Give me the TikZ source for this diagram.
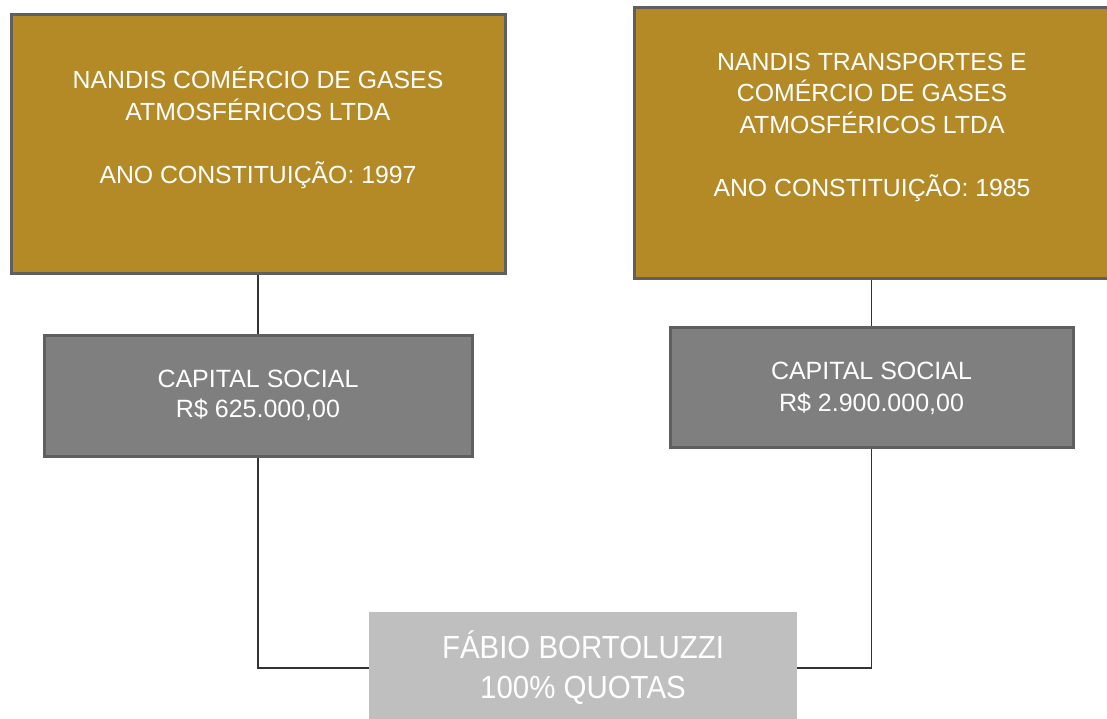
\documentclass[tikz,border=0pt]{standalone}
\usepackage{fontspec}
\setmainfont{Liberation Sans}
\newfontfamily\narrowfont[FakeStretch=0.92]{Liberation Sans}
\definecolor{gold}{HTML}{B38A26}
\definecolor{edge}{HTML}{5F5F5F}
\definecolor{midgray}{HTML}{7F7F7F}
\definecolor{lightgray}{HTML}{BFBFBF}
\begin{document}
\begin{tikzpicture}
[
 x=1pt, y=-1pt,
 inner sep=0pt,
 GOLDBOX/.style={rectangle, draw=edge, fill=gold, line width=3pt},
 CAPBOX/.style={rectangle, draw=edge, fill=midgray, line width=3pt},
 OWNBOX/.style={rectangle, fill=lightgray},
 TXT/.style={text=white, align=center, font=\fontsize{24.8}{31.5}\selectfont},
 BIGTXT/.style={text=white, align=center, font=\narrowfont\fontsize{32}{40}\selectfont},
 LINK/.style={draw=black!80, line width=1.5pt},
 ],
%
\clip (0,0) rectangle (1107,718);
\useasboundingbox (0,0) rectangle (1107,718);
%
\node [GOLDBOX, minimum width=494pt, minimum height=259pt]  (firmA)  at (258,143.5) {};
\node [GOLDBOX, minimum width=481pt, minimum height=271pt]  (firmB)  at (874.5,142.5) {};
\node [CAPBOX, minimum width=428pt, minimum height=121pt]   (capA)   at (258,395.5) {};
\node [CAPBOX, minimum width=403pt, minimum height=120pt]   (capB)   at (871.5,387) {};
\node [OWNBOX, minimum width=428pt, minimum height=112pt]   (owner)  at (583,668) {};
%
\node [TXT]  (firmAtxt)  at (258,128)  {NANDIS COMÉRCIO DE GASES\\ATMOSFÉRICOS LTDA\\[31.5pt]ANO CONSTITUIÇÃO: 1997};
\node [TXT]  (firmBtxt)  at (872,127)  {NANDIS TRANSPORTES E\\COMÉRCIO DE GASES\\ATMOSFÉRICOS LTDA\\[31.5pt]ANO CONSTITUIÇÃO: 1985};
\node [TXT, font=\fontsize{25}{30}\selectfont]  (capAtxt)  at (258,395.5)  {CAPITAL SOCIAL\\R\$ 625.000,00};
\node [TXT, font=\fontsize{25}{32}\selectfont]  (capBtxt)  at (871.5,388)  {CAPITAL SOCIAL\\R\$ 2.900.000,00};
\node [BIGTXT]  (ownertxt)  at (583,668)  {FÁBIO BORTOLUZZI\\100\% QUOTAS};
%
\draw [LINK]  (capA.north)  -- (capA.north |- firmA.south) ;
\draw [LINK]  (capB.north)  -- (capB.north |- firmB.south) ;
\draw [LINK]  (capA.south)  |- (owner.west) ;
\draw [LINK]  (capB.south)  |- (owner.east) ;
\end{tikzpicture}
\end{document}
